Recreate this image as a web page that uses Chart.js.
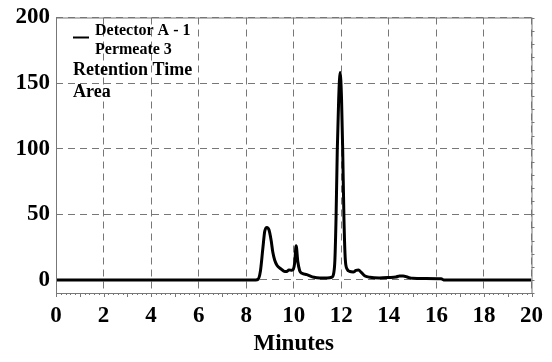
<!DOCTYPE html>
<html>
<head>
<meta charset="utf-8">
<script src="https://cdn.jsdelivr.net/npm/chart.js@4/dist/chart.umd.min.js"></script>
<style>
  html, body { margin: 0; padding: 0; background: #fff; }
  #wrap { width: 552px; height: 362px; }
</style>
</head>
<body>
<div id="wrap"><canvas id="c" width="552" height="362"></canvas></div>
<script>
// chromatogram
const minutes = [0, 8.4, 8.5, 8.6, 8.7, 8.78, 8.87, 8.96, 9.05, 9.12, 9.2, 9.3, 9.45, 9.6, 9.7, 9.8, 9.92,
  9.98, 10.04, 10.1, 10.17, 10.25, 10.35, 10.55, 10.85, 11.1, 11.4, 11.6, 11.68, 11.73, 11.78, 11.83, 11.89,
  11.95, 12.01, 12.06, 12.11, 12.17, 12.25, 12.35, 12.5, 12.62, 12.72, 12.85, 13.0, 13.2, 13.6, 14.0, 14.3,
  14.45, 14.6, 14.8, 15.0, 15.5, 16.2, 16.3, 20];
const signal = [0, 0, 0.5, 7, 24, 37, 40, 38, 30, 21, 15, 11, 8.5, 6.5, 6.3, 7.6, 7.3,
  8, 13, 26, 14, 7, 5, 4, 2, 1.5, 1.5, 2, 5, 15, 48, 98, 138,
  158, 138, 98, 48, 15, 8, 6.5, 6, 7.2, 7.5, 5.5, 3, 2, 1.5, 1.8, 2.2,
  3, 3, 2, 1.2, 1, 0.8, 0, 0];

const xTicks = [0, 2, 4, 6, 8, 10, 12, 14, 16, 18, 20];
const yTicks = [0, 50, 100, 150, 200];
const legendLines = ["Detector A - 1", "Permeate 3"];
const infoLines = ["Retention Time", "Area"];

const FONT = "'Liberation Serif', 'Times New Roman', serif";
const GRID = "#777777";

// frame, minor ticks and the legend block
const decor = {
  id: "decor",
  afterDraw(chart) {
    const { ctx, chartArea: a, scales } = chart;
    ctx.save();
    ctx.strokeStyle = GRID;
    ctx.lineWidth = 1;
    ctx.strokeRect(a.left + 0.5, a.top + 0.5, a.right - a.left, a.bottom - a.top);

    // minor ticks under the x axis
    ctx.beginPath();
    for (let i = 0; i <= 100; i++) {
      const v = i * 0.2;
      const px = Math.round(scales.x.getPixelForValue(v)) + 0.5;
      const len = i % 5 === 0 ? 4 : 2;
      ctx.moveTo(px, a.bottom);
      ctx.lineTo(px, a.bottom + len);
    }
    // small ticks on the right edge
    for (let v = -10; v <= 200; v += 10) {
      const py = Math.round(scales.y.getPixelForValue(v)) + 0.5;
      ctx.moveTo(a.right, py);
      ctx.lineTo(a.right + 3, py);
    }
    ctx.stroke();

    // legend
    ctx.fillStyle = "#000";
    ctx.strokeStyle = "#000";
    ctx.lineWidth = 2;
    ctx.beginPath();
    ctx.moveTo(a.left + 17, a.top + 20);
    ctx.lineTo(a.left + 33, a.top + 20);
    ctx.stroke();
    ctx.textAlign = "left";
    ctx.textBaseline = "alphabetic";
    ctx.font = "bold 16px " + FONT;
    ctx.fillText(legendLines[0], a.left + 39, a.top + 17);
    ctx.fillText(legendLines[1], a.left + 39, a.top + 36);
    ctx.font = "bold 18px " + FONT;
    ctx.fillText(infoLines[0], a.left + 17, a.top + 57);
    ctx.fillText(infoLines[1], a.left + 17, a.top + 79);
    ctx.restore();
  }
};

new Chart(document.getElementById("c"), {
  type: "line",
  data: {
    datasets: [{
      data: minutes.map((m, i) => ({ x: m, y: signal[i] })),
      borderColor: "#000",
      borderWidth: 3,
      pointRadius: 0,
      cubicInterpolationMode: "monotone",
      fill: false
    }]
  },
  options: {
    responsive: false,
    animation: false,
    layout: { padding: { top: 15, right: 16, left: 0, bottom: 0 } },
    plugins: { legend: { display: false }, tooltip: { enabled: false } },
    scales: {
      x: {
        type: "linear",
        min: 0, max: 20,
        afterBuildTicks: (s) => { s.ticks = xTicks.map((v) => ({ value: v })); },
        afterFit: (s) => { s.height = 69; },
        grid: { color: GRID, drawTicks: false },
        border: { display: false, dash: [7, 5] },
        ticks: { color: "#000", padding: 9, font: { family: FONT, size: 23, weight: "bold" }, maxRotation: 0 },
        title: { display: true, text: "Minutes", color: "#000", padding: { top: 3 },
                 font: { family: FONT, size: 23, weight: "bold" } }
      },
      y: {
        min: -10, max: 200,
        afterBuildTicks: (s) => { s.ticks = yTicks.map((v) => ({ value: v })); },
        afterFit: (s) => { s.width = 56; },
        grid: { color: GRID, drawTicks: false },
        border: { display: false, dash: [7, 5] },
        ticks: { color: "#000", padding: 6, font: { family: FONT, size: 23, weight: "bold", lineHeight: 1 } }
      }
    }
  },
  plugins: [decor]
});
</script>
</body>
</html>
